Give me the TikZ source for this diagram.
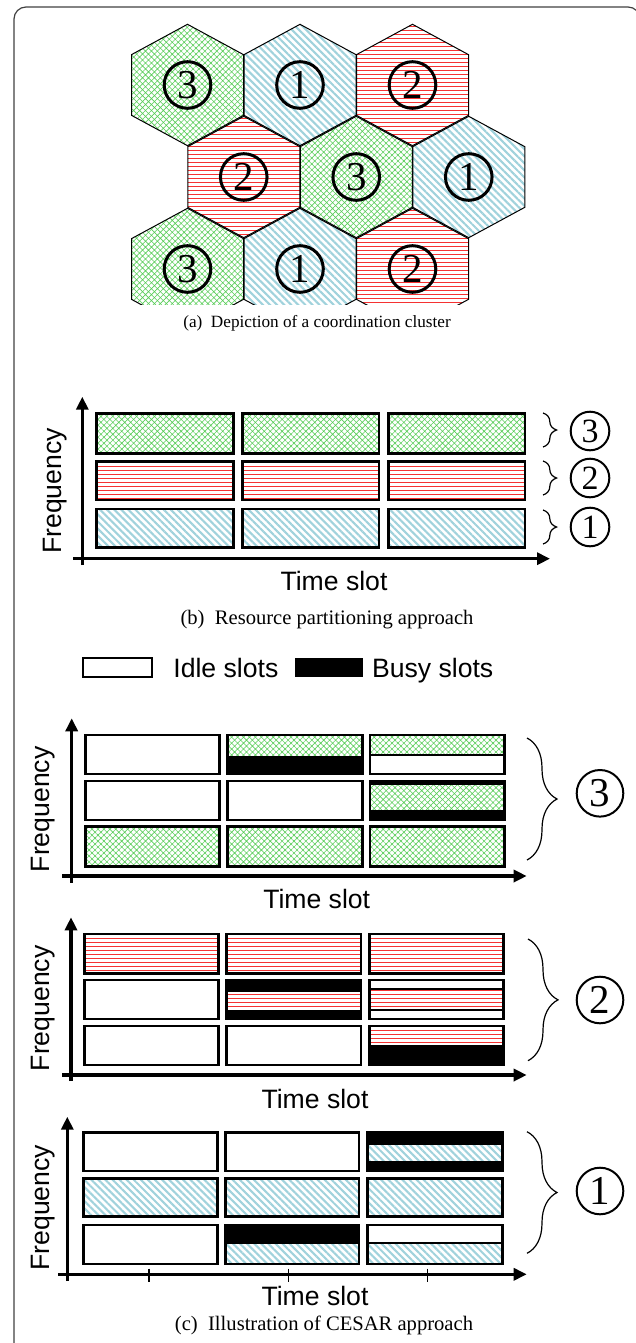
\documentclass[tikz,border=0pt]{standalone}
\usepackage{fontspec}
\setmainfont{Liberation Serif}
\newfontfamily\arialf{Liberation Sans}
\usetikzlibrary{patterns.meta,arrows.meta,decorations.pathreplacing}
\definecolor{cblue}{RGB}{160,210,220}
\definecolor{cgreen}{RGB}{90,205,90}
\definecolor{cred}{RGB}{245,50,50}
\tikzset{
  bpat/.style={pattern={Lines[angle=-45,distance=2.5pt,line width=1.05pt]},pattern color=cblue},
  rpat/.style={pattern={Lines[angle=0,distance=2pt,line width=0.5pt]},pattern color=cred},
  gpat/.style={pattern={Hatch[angle=45,distance=2.1pt,line width=0.3pt]},pattern color=cgreen},
  hexline/.style={draw=black,line width=0.5pt},
  slot/.style={draw=black,line width=1.3pt},
  divider/.style={draw=black,line width=1.1pt},
  axis/.style={line width=1.7pt,-{Triangle[length=6.5pt,width=6pt]}},
  hexnum/.style={circle,draw,line width=1.5pt,minimum size=23.3pt,inner sep=0pt,font=\fontsize{20.5}{20.5}\selectfont},
  bnum/.style={circle,draw,line width=1pt,minimum size=19.3pt,inner sep=0pt,font=\fontsize{17}{17}\selectfont},
  cnum/.style={circle,draw,line width=1pt,minimum size=23.3pt,inner sep=0pt,font=\fontsize{20.5}{20.5}\selectfont},
  axlabel/.style={inner sep=0pt,font=\arialf\fontsize{13.3}{14}\selectfont},
  caption/.style={inner sep=0pt,font=\fontsize{10.3}{12}\selectfont},
  captionsmall/.style={inner sep=0pt,font=\fontsize{8.6}{10}\selectfont},
  bracel/.style={decorate,line width=0.6pt},
}
\newcommand\hexat[3]{\draw[hexline,#3] (#1,#2) ++(0,-60.7) -- ++(56,30.35) -- ++(0,60.7) -- ++(-56,30.35) -- ++(-56,-30.35) -- ++(0,-60.7) -- cycle;}
\newcommand\cellbox[5]{\draw[slot,#5] (#1,#2) rectangle (#3,#4);}
\begin{document}
\begin{tikzpicture}[x=0.5pt,y=-0.5pt]
\path[use as bounding box] (0,0) rectangle (636,1343);
\begin{scope}
\clip (0,0) rectangle (636,1343);
\draw[line width=0.6pt,draw=black!75,rounded corners=6pt] (14,7) rectangle (640,1370);
\end{scope}

% ---------- (a) hexagons ----------
\begin{scope}
\clip (0,0) rectangle (636,304);
\hexat{187.5}{85}{gpat}
\hexat{300}{85}{bpat}
\hexat{412.5}{85}{rpat}
\hexat{243.75}{177}{rpat}
\hexat{356.25}{177}{gpat}
\hexat{468.75}{177}{bpat}
\hexat{187.5}{269}{gpat}
\hexat{300}{269}{bpat}
\hexat{412.5}{269}{rpat}
\end{scope}
\node[hexnum] (h1) at (187.5,85) {3};
\node[hexnum] (h2) at (300,85) {1};
\node[hexnum] (h3) at (412.5,85) {2};
\node[hexnum] (h4) at (243.75,177) {2};
\node[hexnum] (h5) at (356.25,177) {3};
\node[hexnum] (h6) at (468.75,177) {1};
\node[hexnum] (h7) at (187.5,269) {3};
\node[hexnum] (h8) at (300,269) {1};
\node[hexnum] (h9) at (412.5,269) {2};
\node[captionsmall,anchor=base] (capa) at (317,327) {(a)\ \ Depiction of a coordination cluster};

% ---------- (b) ----------
\cellbox{96.7}{413.3}{233.3}{453.3}{gpat}
\cellbox{242.3}{413.3}{379}{453.3}{gpat}
\cellbox{388.3}{413.3}{525}{453.3}{gpat}
\cellbox{96.7}{461.7}{233.3}{500}{rpat}
\cellbox{242.3}{461.7}{379}{500}{rpat}
\cellbox{388.3}{461.7}{525}{500}{rpat}
\cellbox{96.7}{509}{233.3}{547.7}{bpat}
\cellbox{242.3}{509}{379}{547.7}{bpat}
\cellbox{388.3}{509}{525}{547.7}{bpat}
\coordinate (by0) at (82.3,565);
\coordinate (by1) at (82.3,396.7);
\coordinate (bx0) at (73,558.7);
\coordinate (bx1) at (550,558.7);
\draw[axis] (by0) -- (by1);
\draw[axis] (bx0) -- (bx1);
\node[axlabel,rotate=90,anchor=base] (bfreq) at (61,491) {Frequency};
\node[axlabel,anchor=base] (btime) at (334,590.7) {Time slot};
\draw[bracel,decoration={brace,amplitude=6.8pt}] (543,413) -- (543,447);
\draw[bracel,decoration={brace,amplitude=6.8pt}] (543,461) -- (543,495);
\draw[bracel,decoration={brace,amplitude=6.8pt}] (543,510) -- (543,544);
\node[bnum] (b3) at (590,431) {3};
\node[bnum] (b2) at (590,478) {2};
\node[bnum] (b1) at (590,527) {1};
\node[caption,anchor=base] (capb) at (327,624.3) {(b)\ \ Resource partitioning approach};

% ---------- legend ----------
\draw[line width=1pt] (82.7,657.7) rectangle (151.7,677.3);
\node[axlabel,anchor=base west] (idle) at (173,677) {Idle slots};
\fill[black] (295,658) rectangle (363,676.7);
\node[axlabel,anchor=base west] (busy) at (371.7,677) {Busy slots};

% ---------- (c) panel 3 ----------
\cellbox{85.3}{735}{219.3}{774}{}
\fill[gpat] (227.7,735) rectangle (362.3,755.7);
\fill[black] (227.7,755.7) rectangle (362.3,774);
\cellbox{227.7}{735}{362.3}{774}{}
\fill[gpat] (370,735) rectangle (504.3,755);
\draw[divider] (370,755) -- (504.3,755);
\cellbox{370}{735}{504.3}{774}{}
\cellbox{85.3}{781}{219.3}{820}{}
\cellbox{227.7}{781}{362.3}{820}{}
\fill[black] (370,781) rectangle (504.3,785);
\fill[gpat] (370,785) rectangle (504.3,810);
\fill[black] (370,810) rectangle (504.3,820);
\cellbox{370}{781}{504.3}{820}{}
\cellbox{85.3}{826.7}{219.3}{866.7}{gpat}
\cellbox{227.7}{826.7}{362.3}{866.7}{gpat}
\cellbox{370}{826.7}{504.3}{866.7}{gpat}
\coordinate (p3y0) at (71.7,882.7);
\coordinate (p3y1) at (71.7,718.3);
\coordinate (p3x0) at (62,876);
\coordinate (p3x1) at (526.7,876);
\draw[axis] (p3y0) -- (p3y1);
\draw[axis] (p3x0) -- (p3x1);
\node[axlabel,rotate=90,anchor=base] (f3) at (49,809.4) {Frequency};
\node[axlabel,anchor=base] (t3) at (316.7,908.3) {Time slot};
\draw[bracel,decoration={brace,amplitude=15pt}] (527,738) -- (527,860);
\node[cnum] (c3) at (600,793.3) {3};

% ---------- (c) panel 2 ----------
\cellbox{84.3}{934}{218.3}{973.3}{rpat}
\cellbox{226.7}{934}{361}{973.3}{rpat}
\cellbox{369.3}{934}{503.3}{973.3}{rpat}
\cellbox{84.3}{980}{218.3}{1019}{}
\fill[black] (226.7,980) rectangle (361,991.7);
\fill[rpat] (226.7,991.7) rectangle (361,1010);
\fill[black] (226.7,1010) rectangle (361,1019);
\cellbox{226.7}{980}{361}{1019}{}
\fill[rpat] (369.3,989) rectangle (503.3,1010);
\draw[divider] (369.3,989) -- (503.3,989);
\draw[divider] (369.3,1010) -- (503.3,1010);
\cellbox{369.3}{980}{503.3}{1019}{}
\cellbox{84.3}{1026}{218.3}{1065}{}
\cellbox{226.7}{1026}{361}{1065}{}
\fill[rpat] (369.3,1026) rectangle (503.3,1045);
\fill[black] (369.3,1045) rectangle (503.3,1065);
\cellbox{369.3}{1026}{503.3}{1065}{}
\coordinate (p2y0) at (71,1081);
\coordinate (p2y1) at (71,917.3);
\coordinate (p2x0) at (62,1075);
\coordinate (p2x1) at (526.7,1075);
\draw[axis] (p2y0) -- (p2y1);
\draw[axis] (p2x0) -- (p2x1);
\node[axlabel,rotate=90,anchor=base] (f2) at (49,1008.4) {Frequency};
\node[axlabel,anchor=base] (t2) at (315,1108.3) {Time slot};
\draw[bracel,decoration={brace,amplitude=15pt}] (528,939) -- (528,1060.7);
\node[cnum] (c2) at (600,1000) {2};

% ---------- (c) panel 1 ----------
\cellbox{83.3}{1132.3}{217.3}{1171}{}
\cellbox{225.7}{1132.3}{359}{1171}{}
\fill[black] (367.3,1132.3) rectangle (502.3,1145);
\fill[bpat] (367.3,1145) rectangle (502.3,1161);
\fill[black] (367.3,1161) rectangle (502.3,1171);
\cellbox{367.3}{1132.3}{502.3}{1171}{}
\cellbox{83.3}{1178.7}{217.3}{1216.7}{bpat}
\cellbox{225.7}{1178.7}{359}{1216.7}{bpat}
\cellbox{367.3}{1178.7}{502.3}{1216.7}{bpat}
\cellbox{83.3}{1225}{217.3}{1264}{}
\fill[black] (225.7,1225) rectangle (359,1244.3);
\fill[bpat] (225.7,1244.3) rectangle (359,1264);
\cellbox{225.7}{1225}{359}{1264}{}
\fill[bpat] (367.3,1243.3) rectangle (502.3,1264);
\draw[divider] (367.3,1243.3) -- (502.3,1243.3);
\cellbox{367.3}{1225}{502.3}{1264}{}
\coordinate (p1y0) at (67.3,1281);
\coordinate (p1y1) at (67.3,1116.7);
\coordinate (p1x0) at (58,1274.3);
\coordinate (p1x1) at (526.7,1274.3);
\draw[axis] (p1y0) -- (p1y1);
\draw[axis] (p1x0) -- (p1x1);
\foreach \tx in {149,288.3,427.3} \draw[line width=0.6pt] (\tx,1268.5) -- (\tx,1281.5);
\node[axlabel,rotate=90,anchor=base] (f1) at (49,1207.7) {Frequency};
\node[axlabel,anchor=base] (t1) at (315,1305.7) {Time slot};
\draw[bracel,decoration={brace,amplitude=15pt}] (527,1131.7) -- (527,1253.3);
\node[cnum] (c1) at (600,1191) {1};
\node[caption,anchor=base] (capc) at (324,1330) {(c)\ \ Illustration of CESAR approach};
\end{tikzpicture}
\end{document}
